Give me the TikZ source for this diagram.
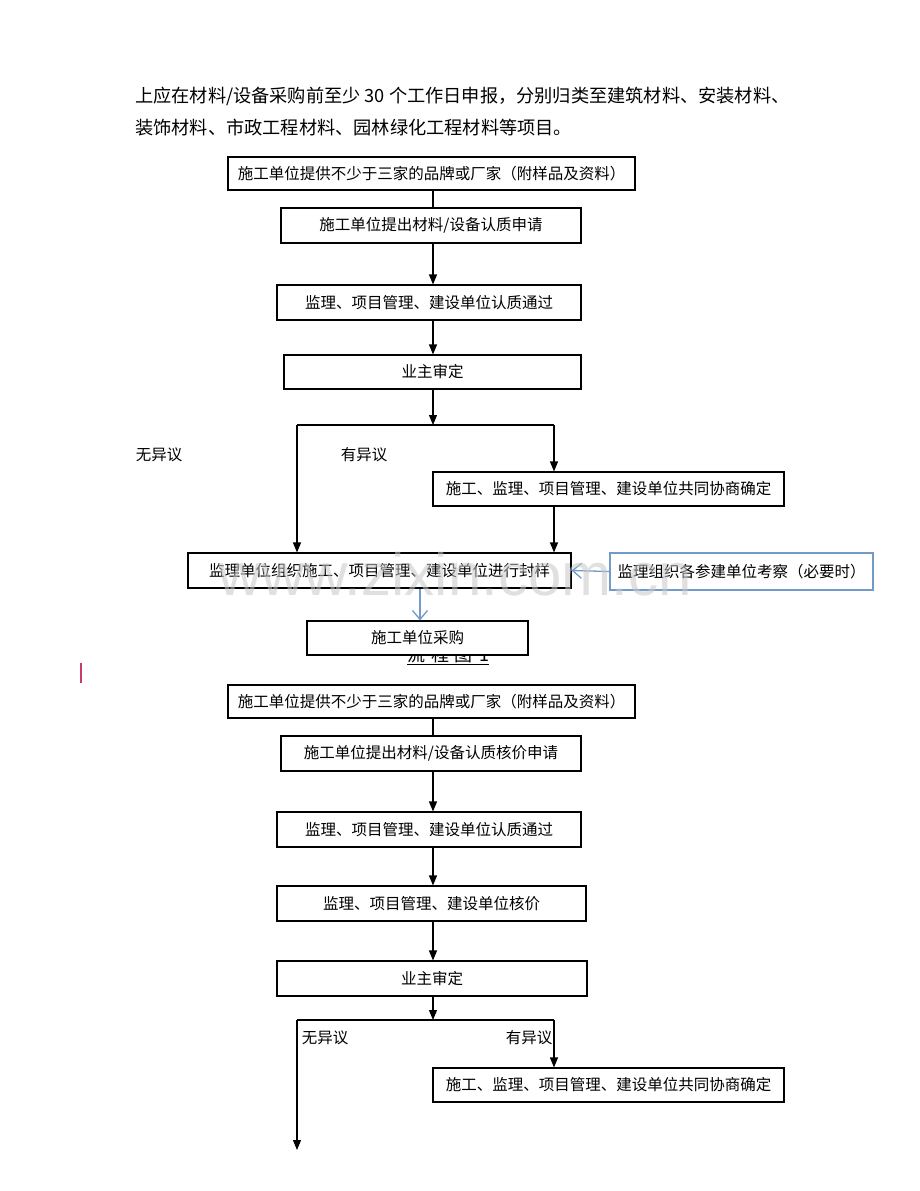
\documentclass[tikz,border=0pt]{standalone}
\usepackage{fontspec}
\setmainfont{Noto Sans CJK SC}
\newfontfamily\wmfont{Liberation Sans}
\usetikzlibrary{arrows.meta}
\definecolor{bl}{RGB}{115,155,200}
\definecolor{wmc}{RGB}{200,200,200}
\definecolor{cur}{RGB}{200,60,100}
\begin{document}
\begin{tikzpicture}[x=1pt,y=-1pt,
  box/.style={draw,line width=1.1pt,fill=white,inner sep=0pt,font=\fontsize{15.5}{18}\selectfont},
  bbox/.style={box,draw=bl,line width=1.4pt},
  arr/.style={line width=1.1pt,-{Triangle[width=8pt,length=10pt]}},
  ln/.style={line width=1.1pt},
  barr/.style={draw=bl,line width=1.3pt,-{Straight Barb[width=15pt,length=9pt]}},
  lbl/.style={inner sep=0pt,font=\fontsize{15.5}{18}\selectfont},
  para/.style={inner sep=0pt,anchor=west,font=\fontsize{18.2}{20}\selectfont}]
\useasboundingbox (0,0) rectangle (920,1191);
\fill[white] (0,0) rectangle (920,1191);

% paragraph
\node[para] (p1) at (135,96) {上应在材料/设备采购前至少 30 个工作日申报，分别归类至建筑材料、安装材料、};
\node[para] (p2) at (135,128) {装饰材料、市政工程材料、园林绿化工程材料等项目。};

% ---------- flowchart 1 ----------
\node[box,minimum width=407pt,minimum height=33pt] (b1) at (431.5,173.5) {施工单位提供不少于三家的品牌或厂家（附样品及资料）};
\node[box,minimum width=300pt,minimum height=35pt] (b2) at (431,225.5) {施工单位提出材料/设备认质申请};
\node[box,minimum width=304pt,minimum height=35pt] (b3) at (429,302.5) {监理、项目管理、建设单位认质通过};
\node[box,minimum width=297pt,minimum height=34pt] (b4) at (432.5,372) {业主审定};
\node[box,minimum width=351pt,minimum height=34pt] (b5) at (608.5,489) {施工、监理、项目管理、建设单位共同协商确定};
\node[inner sep=0pt,font=\fontsize{18}{20}\selectfont] (t1) at (448,656) {\underline{流\,\,程\,\,图\,\,1}};
\node[box,minimum width=383pt,minimum height=35pt] (b6) at (379.5,570.5) {监理单位组织施工、项目管理、建设单位进行封样};
\node[bbox,minimum width=263pt,minimum height=37pt] (b7) at (741.5,571.5) {监理组织各参建单位考察（必要时）};
\node[box,minimum width=221pt,minimum height=34pt] (b8) at (417.5,638) {施工单位采购};

\node[lbl] (n1) at (159,455) {无异议};
\node[lbl] (y1) at (364,455) {有异议};

\coordinate (c1) at (433,0);
\coordinate (jm) at (433,425);
\coordinate (jl) at (297,425);
\coordinate (jr) at (554,425);
\coordinate (c8) at (420,0);

\draw[ln] (c1 |- b1.south) -- (c1 |- b2.north);
\draw[arr] (c1 |- b2.south) -- (c1 |- b3.north);
\draw[arr] (c1 |- b3.south) -- (c1 |- b4.north);
\draw[arr] (c1 |- b4.south) -- (jm);
\draw[ln] (jl) -- (jr);
\draw[arr] (jl) -- (jl |- b6.north);
\draw[arr] (jr) -- (jr |- b5.north);
\draw[arr] (jr |- b5.south) -- (jr |- b6.north);
\draw[barr] (b7.west) -- (b6.east);
\draw[barr] (c8 |- b6.south) -- (c8 |- b8.north);

% ---------- flowchart 2 ----------
\node[box,minimum width=407pt,minimum height=33pt] (a1) at (431.5,701.5) {施工单位提供不少于三家的品牌或厂家（附样品及资料）};
\node[box,minimum width=300pt,minimum height=35pt] (a2) at (431,753.5) {施工单位提出材料/设备认质核价申请};
\node[box,minimum width=304pt,minimum height=35pt] (a3) at (429,829.5) {监理、项目管理、建设单位认质通过};
\node[box,minimum width=309pt,minimum height=35pt] (a4) at (431.5,903.5) {监理、项目管理、建设单位核价};
\node[box,minimum width=310pt,minimum height=35pt] (a5) at (432,978.5) {业主审定};
\node[box,minimum width=351pt,minimum height=34pt] (a6) at (608.5,1085) {施工、监理、项目管理、建设单位共同协商确定};

\node[lbl] (n2) at (325,1038) {无异议};
\node[lbl] (y2) at (529,1038) {有异议};

\coordinate (km) at (433,1020);
\coordinate (kl) at (297,1020);
\coordinate (kr) at (554,1020);
\coordinate (kend) at (297,1150);

\draw[ln] (c1 |- a1.south) -- (c1 |- a2.north);
\draw[arr] (c1 |- a2.south) -- (c1 |- a3.north);
\draw[arr] (c1 |- a3.south) -- (c1 |- a4.north);
\draw[arr] (c1 |- a4.south) -- (c1 |- a5.north);
\draw[arr] (c1 |- a5.south) -- (km);
\draw[ln] (kl) -- (kr);
\draw[arr] (kl) -- (kend);
\draw[arr] (kr) -- (kr |- a6.north);

% cursor mark
\coordinate (q1) at (81,663);
\coordinate (q2) at (81,683);
\draw[cur,line width=1.2pt] (q1) -- (q2);

% watermark
\node[text=wmc,opacity=0.55,inner sep=0pt,font=\wmfont\fontsize{60}{62}\selectfont] (wm) at (455,574) {www.zixin.com.cn};
\end{tikzpicture}
\end{document}
